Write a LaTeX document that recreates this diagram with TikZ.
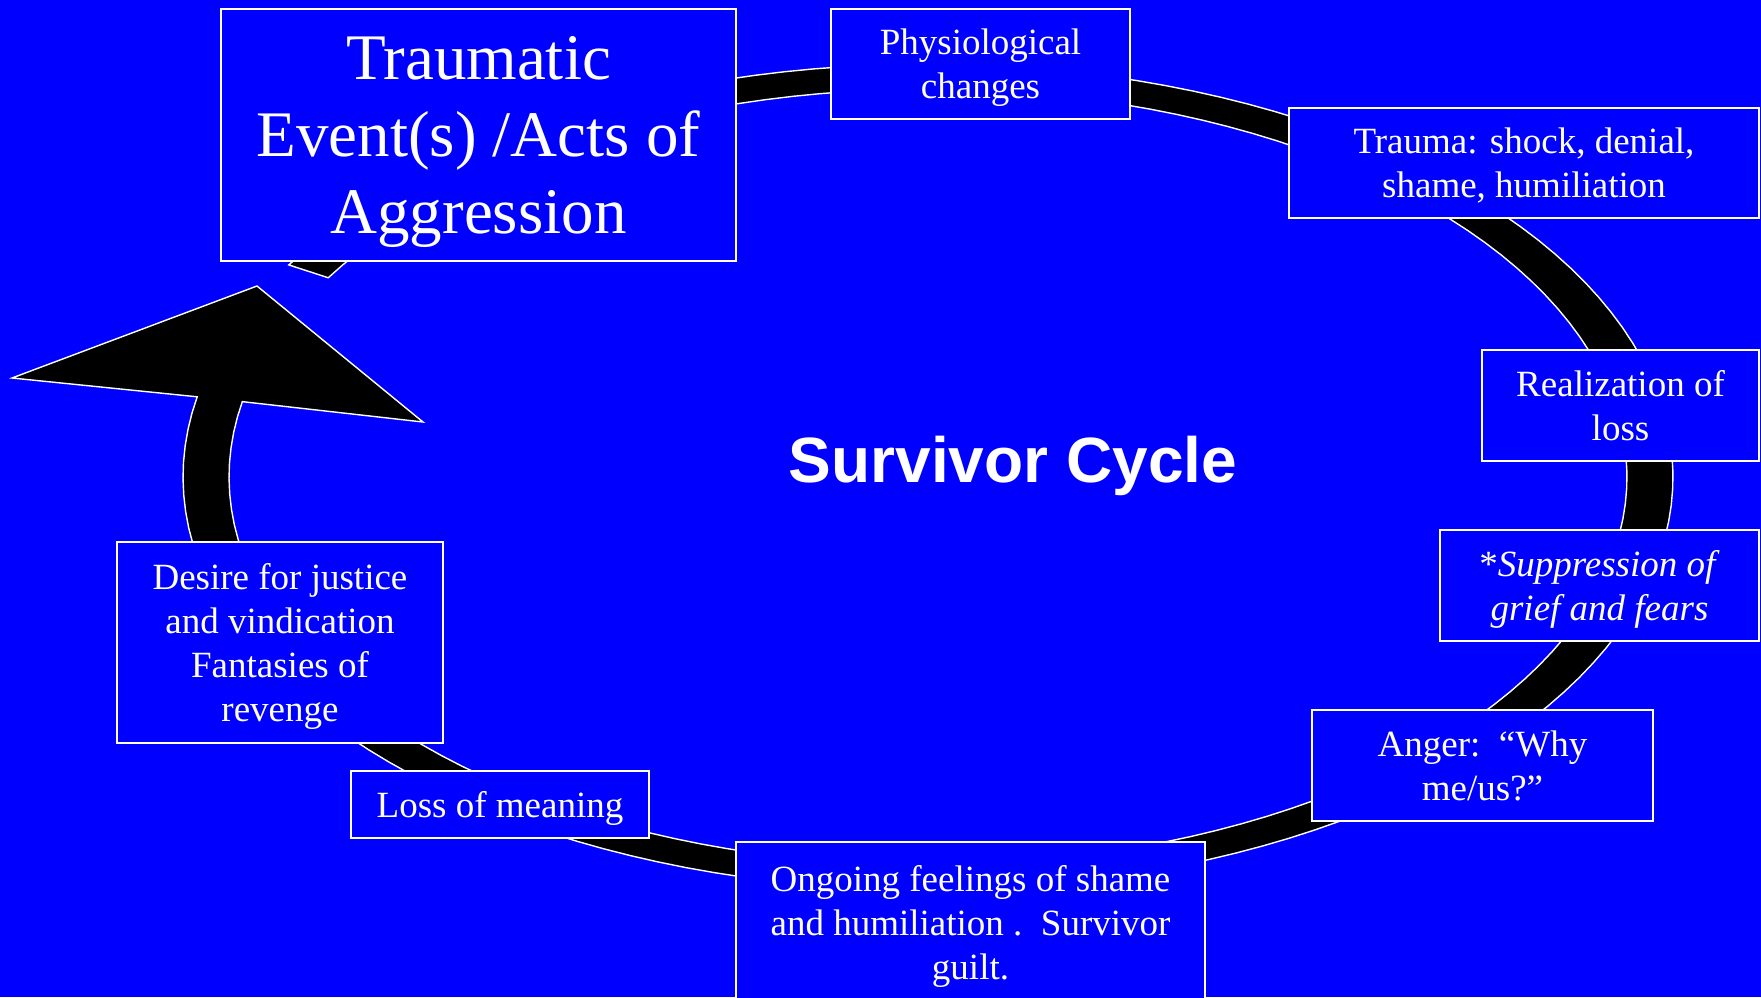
\documentclass[tikz,border=0pt]{standalone}
\usepackage{fontspec}
\setmainfont{Liberation Serif}
\setsansfont{Liberation Sans}
\usepackage{tikz}
\usetikzlibrary{positioning}
\definecolor{SlideBlue}{HTML}{0000FF}
\tikzset{
  BX/.style={rectangle,draw=white,line width=1pt,fill=SlideBlue,
             text=white,align=center,inner sep=2pt,text depth=0pt,
             font=\fontsize{18.5}{22}\selectfont},
  BIG/.style={BX,font=\fontsize{32.5}{38.5}\selectfont},
  RG/.style={fill=black,draw=white,line width=0.7pt,line join=miter},
  TT/.style={text=white,font=\sffamily\bfseries\fontsize{32}{38}\selectfont}
}

\begin{document}
\begin{tikzpicture}[x=0.5pt,y=-0.5pt]
  \useasboundingbox (0,0) rectangle (1761,997);
  \clip (0,0) rectangle (1761,997);
  \fill[SlideBlue] (0,0) rectangle (1761,997);

  % cycle band with arrow head
  \filldraw[RG]
    plot[domain=210.9:551.2,samples=150] ({928+745*cos(\x)},{477+413*sin(\x)})
    -- (12,378) -- (257,286) -- (423,422)
    -- plot[domain=551.2:210.9,samples=150] ({928+699*cos(\x)},{477+388*sin(\x)})
    -- cycle;

  \node[TT] (title) at (1013,466) {Survivor Cycle};

  \node[BIG,minimum width=257.5pt,minimum height=126pt] (event) at (478.5,135)
    {Traumatic\\Event(s) /Acts of\\Aggression};
  \node[BX,minimum width=149.5pt,minimum height=55pt] (physio) at (980.5,64)
    {Physiological\\changes};
  \node[BX,minimum width=235pt,minimum height=55pt] (shock) at (1524,163)
    {Trauma: shock, denial,\\shame, humiliation};
  \node[BX,minimum width=138.5pt,minimum height=55.5pt] (loss) at (1620.5,405.5)
    {Realization of\\loss};
  \node[BX,minimum width=159.5pt,minimum height=55.5pt] (grief) at (1599.5,585.5)
    {*\textit{Suppression of}\\\textit{grief and fears}};
  \node[BX,minimum width=170.5pt,minimum height=55.5pt] (anger) at (1482.5,765.5)
    {Anger:\ \ “Why\\me/us?”};
  \node[BX,minimum width=234.5pt,minimum height=80.5pt] (guilt) at (970.5,922.5)
    {Ongoing feelings of shame\\and humiliation .\ \ Survivor\\guilt.};
  \node[BX,minimum width=149pt,minimum height=33.5pt] (meaning) at (500,804.5)
    {Loss of meaning};
  \node[BX,minimum width=163pt,minimum height=100.5pt] (justice) at (280,642.5)
    {Desire for justice\\and vindication\\Fantasies of\\revenge};
\end{tikzpicture}
\end{document}
